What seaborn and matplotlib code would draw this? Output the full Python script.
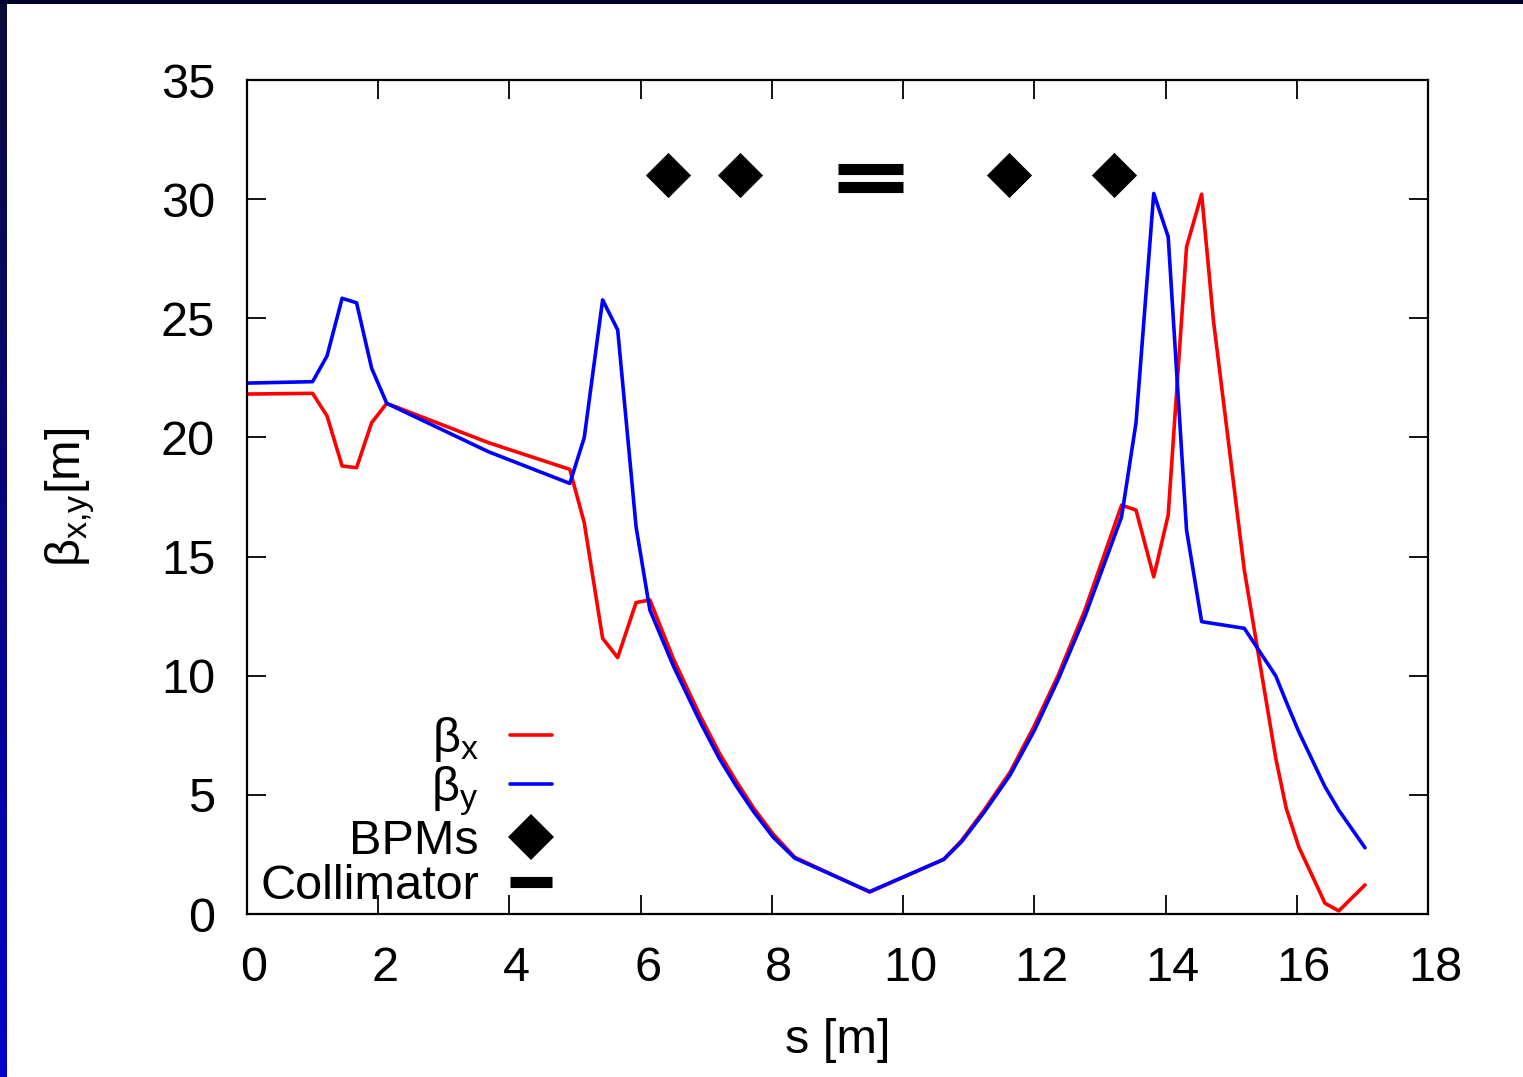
import numpy as np
import pandas as pd
import seaborn as sns
import matplotlib.pyplot as plt
import matplotlib.transforms as mtransforms
from matplotlib.lines import Line2D

# optics along the line (s in m, beta in m)
s_pos = [0.0, 1.0, 1.22, 1.45, 1.67, 1.90, 2.13, 3.68, 4.92, 5.14, 5.42, 5.65,
         5.93, 6.14, 6.5, 6.9, 7.2, 7.45, 7.72, 8.02, 8.35, 9.49, 10.62, 10.89,
         11.24, 11.63, 12.0, 12.36, 12.77, 13.33, 13.55, 13.82, 14.04, 14.32,
         14.55, 14.73, 15.2, 15.68, 15.84, 16.03, 16.43, 16.64, 17.04]
beta_x = [21.82, 21.85, 20.9, 18.8, 18.73, 20.62, 21.43, 19.78, 18.66, 16.42,
          11.57, 10.76, 13.07, 13.18, 10.7, 8.35, 6.75, 5.6, 4.45, 3.35, 2.38,
          0.92, 2.3, 3.08, 4.38, 5.95, 7.9, 10.0, 12.75, 17.16, 16.95, 14.15,
          16.74, 28.0, 30.21, 24.9, 14.44, 6.53, 4.43, 2.82, 0.45, 0.13, 1.22]
beta_y = [22.28, 22.34, 23.42, 25.84, 25.65, 22.9, 21.43, 19.40, 18.07, 19.99,
          25.77, 24.51, 16.25, 12.76, 10.4, 8.1, 6.52, 5.4, 4.3, 3.22, 2.34,
          0.94, 2.29, 3.03, 4.29, 5.83, 7.7, 9.82, 12.48, 16.67, 20.62, 30.24,
          28.42, 16.11, 12.27, 12.19, 11.99, 9.99, 8.9, 7.65, 5.34, 4.36, 2.78]

bpm_s = [6.42, 7.52, 11.62, 13.22]
bpm_level = [31, 31, 31, 31]

collimator_s = [9.0, 10.0]
collimator_jaws = [31.25, 30.5]

sns.set_style('ticks')
plt.rcParams['font.family'] = ['Liberation Sans', 'DejaVu Sans']
plt.rcParams['mathtext.fontset'] = 'custom'
plt.rcParams['mathtext.rm'] = 'Liberation Sans'
plt.rcParams['mathtext.it'] = 'Liberation Sans:italic'
plt.rcParams['text.color'] = 'black'
plt.rcParams['axes.labelcolor'] = 'black'

W, H = 1523, 1077
fig = plt.figure(figsize=(W / 100, H / 100), dpi=100)
fig.patch.set_facecolor('white')

# slide border: dark strip on top, gradient on the left
top = fig.add_axes([0, 1 - 4 / H, 1, 4 / H])
top.set_axis_off()
top.add_patch(plt.Rectangle((0, 0), 1, 1, color='#00002e', transform=top.transAxes))
left = fig.add_axes([0, 0, 7 / W, 1 - 4 / H])
grad = np.linspace(0, 1, 256)[:, None]
cols = np.zeros((256, 1, 3))
cols[..., 0] = 0.04 * (1 - grad)
cols[..., 1] = 0.04 * (1 - grad)
cols[..., 2] = 0.22 + (0.80 - 0.22) * grad
left.imshow(cols, aspect='auto', extent=[0, 1, 0, 1])
left.set_axis_off()

ax = fig.add_axes([247 / W, 1 - 914 / H, (1428 - 247) / W, (914 - 80) / H])

df = pd.DataFrame({'s': s_pos, 'bx': beta_x, 'by': beta_y})
sns.lineplot(data=df, x='s', y='bx', color='#ff0000', lw=2.6, ax=ax,
             sort=False, estimator=None)
sns.lineplot(data=df, x='s', y='by', color='#0000ff', lw=2.6, ax=ax,
             sort=False, estimator=None)

sns.scatterplot(x=bpm_s, y=bpm_level, marker='D', s=23 ** 2, color='black',
                linewidth=0, ax=ax, zorder=3)
for jaw in collimator_jaws:
    ax.plot(collimator_s, [jaw, jaw], color='black', lw=8, solid_capstyle='butt')

ax.set_xlim(0, 18)
ax.set_ylim(0, 35)
ax.set_xticks(range(0, 19, 2))
ax.set_yticks(range(0, 36, 5))
ax.tick_params(direction='in', length=14, width=1.3, top=True, right=True,
               labelsize=35, pad=23, colors='black')
# gnuplot puts the x tick labels a little to the right of the ticks
shift = mtransforms.ScaledTranslation(7 / 100, 0, fig.dpi_scale_trans)
for lbl in ax.get_xticklabels():
    lbl.set_transform(lbl.get_transform() + shift)
for sp in ax.spines.values():
    sp.set_linewidth(1.6)
    sp.set_color('black')

ax.set_xlabel('s [m]', fontsize=35)
ax.set_ylabel(r'β$_\mathregular{x{,}y}$[m]', fontsize=35)
ax.xaxis.set_label_coords(0.5, -0.125)
ax.yaxis.set_label_coords(-0.127, 0.5)

handles = [Line2D([], [], color='#ff0000', lw=2.6),
           Line2D([], [], color='#0000ff', lw=2.6),
           Line2D([], [], ls='none', marker='D', ms=23, color='black', mew=0),
           Line2D([], [], color='black', lw=8, solid_capstyle='butt')]
labels = [r'β$_\mathregular{x}$', r'β$_\mathregular{y}$', 'BPMs', 'Collimator']
ax.legend(handles, labels, loc='lower right', bbox_to_anchor=(0.258, 0.0056),
          frameon=False, markerfirst=False, handlelength=0.86,
          handletextpad=0.64, labelspacing=0.012, fontsize=35,
          borderpad=0, borderaxespad=0)

fig.savefig('out.png', dpi=100)
